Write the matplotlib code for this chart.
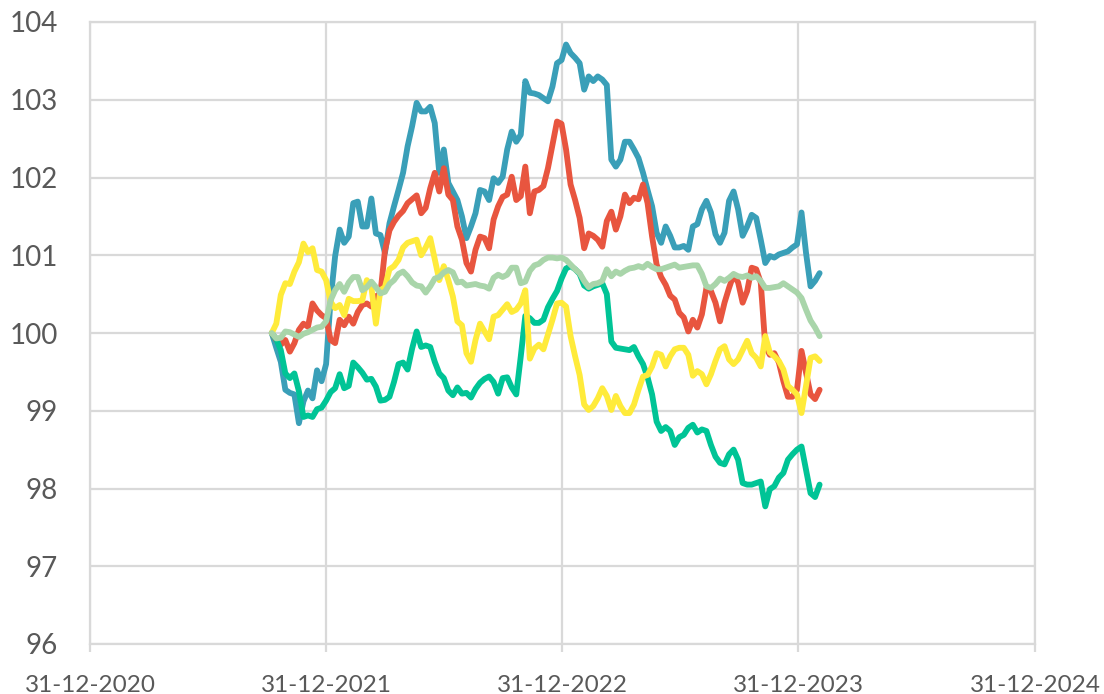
import matplotlib
matplotlib.use("Agg")
import matplotlib.pyplot as plt
import matplotlib.dates as mdates
import pandas as pd

# weekly observation dates
start_date = "2021-10-08"
n_weeks = 122

blue = [100.00, 99.81, 99.63, 99.27, 99.23, 99.21, 98.84, 99.12, 99.26, 99.16,
        99.52, 99.38, 99.60, 100.43, 100.99, 101.33, 101.16, 101.24, 101.67, 101.69,
        101.37, 101.37, 101.73, 101.28, 101.26, 101.03, 101.41, 101.63, 101.84, 102.06,
        102.40, 102.66, 102.96, 102.85, 102.85, 102.91, 102.70, 102.06, 102.36, 101.93,
        101.82, 101.71, 101.50, 101.22, 101.37, 101.54, 101.84, 101.82, 101.71, 101.99,
        101.93, 102.01, 102.36, 102.59, 102.46, 102.55, 103.24, 103.09, 103.08, 103.06,
        103.02, 102.98, 103.17, 103.47, 103.51, 103.71, 103.60, 103.54, 103.47, 103.13,
        103.30, 103.24, 103.30, 103.26, 103.19, 102.23, 102.14, 102.23, 102.46, 102.46,
        102.36, 102.25, 102.06, 101.84, 101.63, 101.29, 101.16, 101.37, 101.25, 101.10,
        101.10, 101.12, 101.07, 101.37, 101.40, 101.59, 101.70, 101.55, 101.27, 101.16,
        101.29, 101.70, 101.82, 101.59, 101.25, 101.37, 101.52, 101.48, 101.20, 100.90,
        100.99, 100.97, 101.01, 101.03, 101.05, 101.10, 101.14, 101.55, 101.03, 100.60,
        100.67, 100.77]

red = [100.00, 99.91, 99.85, 99.91, 99.76, 99.87, 100.04, 100.12, 100.08, 100.38,
       100.29, 100.23, 100.19, 99.91, 99.87, 100.17, 100.10, 100.21, 100.12, 100.27,
       100.36, 100.38, 100.34, 100.47, 100.51, 101.06, 101.32, 101.43, 101.51, 101.57,
       101.67, 101.72, 101.77, 101.54, 101.61, 101.86, 102.06, 101.82, 102.12, 101.78,
       101.71, 101.37, 101.20, 100.90, 100.79, 101.07, 101.24, 101.22, 101.09, 101.46,
       101.63, 101.75, 101.78, 102.01, 101.71, 101.76, 102.14, 101.54, 101.82, 101.84,
       101.89, 102.12, 102.42, 102.72, 102.69, 102.36, 101.91, 101.71, 101.48, 101.09,
       101.28, 101.25, 101.20, 101.11, 101.44, 101.56, 101.33, 101.50, 101.78, 101.67,
       101.74, 101.72, 101.91, 101.67, 101.24, 100.88, 100.72, 100.62, 100.48, 100.43,
       100.26, 100.20, 100.02, 100.17, 100.07, 100.24, 100.58, 100.54, 100.39, 100.15,
       100.39, 100.58, 100.75, 100.65, 100.39, 100.54, 100.84, 100.82, 100.65, 99.83,
       99.72, 99.74, 99.62, 99.38, 99.18, 99.18, 99.27, 99.77, 99.49, 99.21,
       99.15, 99.27]

dark_green = [100.00, 99.92, 99.78, 99.48, 99.42, 99.48, 99.25, 98.92, 98.94, 98.92,
              99.02, 99.04, 99.13, 99.24, 99.29, 99.47, 99.29, 99.32, 99.62, 99.56,
              99.49, 99.40, 99.41, 99.31, 99.13, 99.14, 99.18, 99.37, 99.60, 99.62,
              99.53, 99.80, 100.02, 99.82, 99.84, 99.82, 99.63, 99.48, 99.42, 99.26,
              99.20, 99.30, 99.22, 99.23, 99.17, 99.28, 99.36, 99.41, 99.44, 99.37,
              99.22, 99.42, 99.43, 99.30, 99.21, 99.70, 100.22, 100.19, 100.13, 100.13,
              100.17, 100.33, 100.44, 100.54, 100.70, 100.83, 100.86, 100.82, 100.76, 100.61,
              100.57, 100.60, 100.62, 100.64, 100.50, 99.89, 99.81, 99.80, 99.79, 99.78,
              99.82, 99.70, 99.60, 99.43, 99.21, 98.86, 98.74, 98.79, 98.74, 98.56,
              98.66, 98.69, 98.78, 98.82, 98.72, 98.76, 98.74, 98.56, 98.41, 98.33,
              98.31, 98.44, 98.50, 98.37, 98.07, 98.05, 98.05, 98.07, 98.09, 97.77,
              97.99, 98.03, 98.14, 98.20, 98.37, 98.44, 98.50, 98.54, 98.24, 97.94,
              97.89, 98.05]

yellow = [100.00, 100.12, 100.49, 100.64, 100.63, 100.79, 100.91, 101.15, 101.04, 101.09,
          100.81, 100.79, 100.68, 100.40, 100.32, 100.36, 100.23, 100.44, 100.41, 100.41,
          100.42, 100.68, 100.59, 100.12, 100.55, 100.59, 100.82, 100.86, 100.94, 101.10,
          101.16, 101.18, 101.20, 101.00, 101.10, 101.22, 100.95, 100.68, 100.86, 100.68,
          100.47, 100.15, 100.10, 99.74, 99.63, 99.91, 100.12, 100.02, 99.92, 100.21,
          100.23, 100.30, 100.37, 100.27, 100.30, 100.38, 100.55, 99.67, 99.80, 99.85,
          99.79, 99.98, 100.17, 100.38, 100.39, 100.34, 99.96, 99.70, 99.46, 99.08,
          99.01, 99.06, 99.16, 99.29, 99.19, 99.01, 99.19, 99.06, 98.97, 98.97,
          99.08, 99.27, 99.44, 99.46, 99.57, 99.74, 99.72, 99.57, 99.70, 99.79,
          99.81, 99.81, 99.72, 99.45, 99.51, 99.47, 99.34, 99.47, 99.64, 99.79,
          99.83, 99.66, 99.60, 99.66, 99.78, 99.90, 99.74, 99.68, 99.57, 99.96,
          99.75, 99.70, 99.64, 99.53, 99.32, 99.27, 99.21, 98.97, 99.32, 99.68,
          99.70, 99.64]

light_green = [100.00, 99.93, 99.94, 100.02, 100.01, 99.98, 99.95, 99.99, 100.01, 100.04,
               100.07, 100.08, 100.15, 100.42, 100.55, 100.63, 100.53, 100.65, 100.72, 100.72,
               100.55, 100.59, 100.66, 100.59, 100.51, 100.53, 100.63, 100.68, 100.76, 100.79,
               100.73, 100.65, 100.61, 100.60, 100.52, 100.60, 100.70, 100.72, 100.78, 100.81,
               100.78, 100.65, 100.66, 100.61, 100.62, 100.63, 100.61, 100.60, 100.57, 100.71,
               100.75, 100.72, 100.75, 100.84, 100.84, 100.64, 100.66, 100.80, 100.87, 100.89,
               100.94, 100.97, 100.97, 100.96, 100.97, 100.94, 100.88, 100.82, 100.77, 100.67,
               100.59, 100.63, 100.64, 100.67, 100.82, 100.73, 100.79, 100.76, 100.80, 100.83,
               100.84, 100.86, 100.84, 100.89, 100.85, 100.82, 100.82, 100.84, 100.86, 100.88,
               100.84, 100.85, 100.86, 100.87, 100.87, 100.76, 100.60, 100.58, 100.63, 100.70,
               100.67, 100.71, 100.76, 100.73, 100.72, 100.74, 100.71, 100.73, 100.67, 100.58,
               100.58, 100.59, 100.60, 100.64, 100.60, 100.56, 100.52, 100.45, 100.30, 100.16,
               100.07, 99.96]

x_ticks = ["2020-12-31", "2021-12-31", "2022-12-31", "2023-12-31", "2024-12-31"]
y_ticks = [96, 97, 98, 99, 100, 101, 102, 103, 104]

plt.rcParams["font.family"] = ["Lato", "DejaVu Sans"]

dates = pd.date_range(start_date, periods=n_weeks, freq="7D")

fig = plt.figure(figsize=(11.04, 6.94), dpi=100)
ax = fig.add_axes([90 / 1104, 50 / 694, 945 / 1104, 622 / 694])

grid_c = "#D9D9D9"
series = [
    (blue, "#3A9FB8"),
    (red, "#E8553F"),
    (dark_green, "#00C496"),
    (yellow, "#FFEB3B"),
    (light_green, "#A9D5AA"),
]
for vals, col in series:
    ax.plot(dates, vals, color=col, lw=4.2, solid_joinstyle="round",
            solid_capstyle="round", zorder=3)

tick_dates = pd.to_datetime(x_ticks)
ax.set_xlim(tick_dates[0], tick_dates[-1])
ax.set_ylim(y_ticks[0], y_ticks[-1])
ax.set_xticks(tick_dates)
ax.xaxis.set_major_formatter(mdates.DateFormatter("%d-%m-%Y"))
ax.set_yticks(y_ticks)

ax.grid(True, color=grid_c, lw=1.6, zorder=0)
for s in ax.spines.values():
    s.set_color(grid_c)
    s.set_linewidth(1.6)
    s.set_zorder(0)

ax.tick_params(axis="y", length=0, pad=23, labelsize=20, labelcolor="#595959")
ax.tick_params(axis="x", length=6, width=1.6, color=grid_c, pad=16,
               labelsize=17.5, labelcolor="#595959")

fig.savefig("out.png", dpi=100)
